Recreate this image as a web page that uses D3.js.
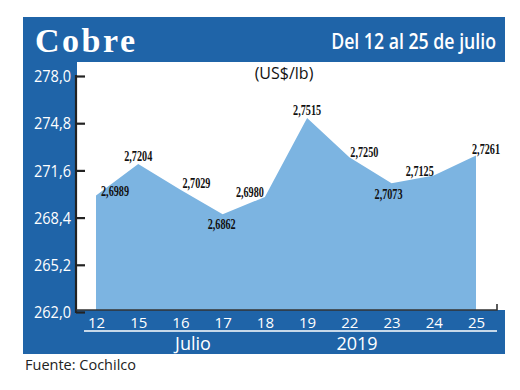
<!DOCTYPE html>
<html><head><meta charset="utf-8">
<script src="https://cdn.jsdelivr.net/npm/d3@7"></script>
<style>body{margin:0;background:#fff}svg{display:block}</style>
</head><body>
<script>
const days = ["12","15","16","17","18","19","22","23","24","25"];
const values = [269.89, 272.04, 270.29, 268.62, 269.80, 275.15, 272.50, 270.73, 271.25, 272.61];
const labels = ["2,6989","2,7204","2,7029","2,6862","2,6980","2,7515","2,7250","2,7073","2,7125","2,7261"];
const yTicks = [262.0, 265.2, 268.4, 271.6, 274.8, 278.0];
const yTickLabels = ["262,0","265,2","268,4","271,6","274,8","278,0"];
const title = "Cobre";
const subtitle = "Del 12 al 25 de julio";
const unit = "(US$/lb)";
const monthLabel = "Julio";
const yearLabel = "2019";
const source = "Fuente: Cochilco";
// label placement offsets (layout only)
const labelOffsets = [[19,0],[0,-3],[16,-2],[-1,15],[-15,0],[0,-3],[15,0],[-3,16],[-14,0],[10,-2]];

const W = 520, H = 390;
const dark = "#1f64a8", light = "#7cb4e1";
const frame = {x0:23, x1:505, y0:17, headerB:62, left:77, bottom:310, y1:354};

const svg = d3.select("body").append("svg").attr("width", W).attr("height", H);

// frame
svg.append("rect").attr("x", frame.x0).attr("y", frame.y0).attr("width", frame.x1-frame.x0).attr("height", frame.y1-frame.y0).attr("fill", dark);
svg.append("rect").attr("x", frame.left).attr("y", frame.headerB).attr("width", frame.x1-frame.left).attr("height", frame.bottom-frame.headerB).attr("fill", "#fff");

// header
svg.append("text").attr("x", 35).attr("y", 52).text(title)
  .attr("fill","#fff").attr("font-family","Liberation Serif").attr("font-weight","bold")
  .attr("font-size", 34).attr("letter-spacing", 2.5);
const sub = svg.append("g");
const subT = sub.append("text").attr("x", 0).attr("y", 0).attr("text-anchor","end").text(subtitle)
  .attr("fill","#fff").attr("font-family","Open Sans").attr("font-weight",600).attr("font-size", 21);
const natural = subT.node().getComputedTextLength();
sub.attr("transform", `translate(496,49) scale(${165/natural},1)`);

const x = d3.scalePoint().domain(days).range([96, 476]);
const y = d3.scaleLinear().domain([262, 278]).range([312, 76]);

// area
const area = d3.area().x((d,i)=>x(days[i])).y0(frame.bottom).y1(d=>y(d));
svg.append("path").datum(values).attr("d", area).attr("fill", light);

// unit
svg.append("text").attr("x", 284).attr("y", 79).attr("text-anchor","middle").text(unit)
  .attr("font-family","Open Sans").attr("font-size", 16).attr("fill","#111");

// y axis
const yAxis = d3.axisLeft(y).tickValues(yTicks).tickFormat((d,i)=>yTickLabels[i])
  .tickSizeInner(-9).tickSizeOuter(0).tickPadding(5);
const gy = svg.append("g").attr("transform","translate(76,0)").call(yAxis);
gy.select(".domain").remove();
gy.selectAll(".tick line").attr("stroke","#222").attr("stroke-width",2.2);
gy.selectAll(".tick text").attr("fill","#fff").attr("font-family","Open Sans").attr("font-size",16)
  .attr("dy","0.35em").attr("textLength",37).attr("lengthAdjust","spacingAndGlyphs");
svg.append("line").attr("x1",76).attr("x2",76).attr("y1",y(278)-1).attr("y2",y(262)+1).attr("stroke","#222").attr("stroke-width",2.2);

// x axis baseline
svg.append("path").attr("d", `M76,${frame.bottom}H497V${frame.bottom-6}`).attr("fill","none").attr("stroke","#333").attr("stroke-width",1.6);

const xAxis = d3.axisBottom(x).tickSize(0).tickPadding(7);
const gx = svg.append("g").attr("transform",`translate(0,${frame.bottom})`).call(xAxis);
gx.select(".domain").remove();
gx.selectAll(".tick text").attr("fill","#fff").attr("font-family","Open Sans").attr("font-size",15);

// underline + month/year
svg.append("line").attr("x1",84).attr("x2",497).attr("y1",331).attr("y2",331).attr("stroke","#fff").attr("stroke-width",1.5);
svg.append("text").attr("x", 193).attr("y", 350).attr("text-anchor","middle").text(monthLabel)
  .attr("fill","#fff").attr("font-family","Open Sans").attr("font-size",18);
svg.append("text").attr("x", 357).attr("y", 350).attr("text-anchor","middle").text(yearLabel)
  .attr("fill","#fff").attr("font-family","Open Sans").attr("font-size",18);

// data labels
svg.append("g").selectAll("text").data(values).join("text")
  .attr("x",(d,i)=>x(days[i]) + labelOffsets[i][0])
  .attr("y",(d,i)=>y(d) + labelOffsets[i][1])
  .attr("text-anchor","middle")
  .attr("font-family","Liberation Serif").attr("font-weight","bold").attr("font-size",14)
  .attr("fill","#111")
  .attr("textLength",28).attr("lengthAdjust","spacingAndGlyphs")
  .text((d,i)=>labels[i]);

// source
svg.append("text").attr("x", 25).attr("y", 370).text(source)
  .attr("fill","#222").attr("font-family","Open Sans").attr("font-size",14.5);
</script>
</body></html>
